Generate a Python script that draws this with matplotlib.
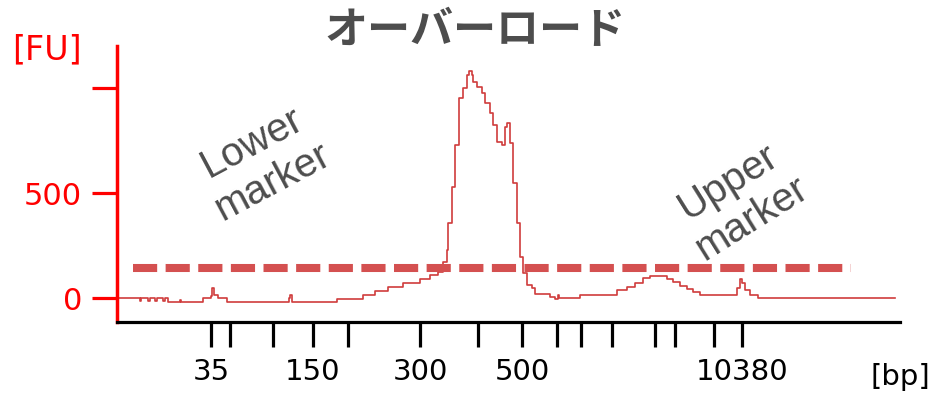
import matplotlib
matplotlib.use("Agg")
import matplotlib.pyplot as plt

# electropherogram trace (position along run, fluorescence units)
trace_pos = [0, 23, 24, 31, 33, 38, 40, 46, 48, 51, 63, 64, 86, 94, 95, 97, 101, 110,
             172, 173, 175, 220, 246, 258, 271, 286, 303, 313, 321, 326, 330, 331, 335,
             338, 342, 346, 350, 352, 355, 356, 360, 365, 368, 373, 376, 380, 385, 388,
             390, 393, 396, 400, 403, 406, 410, 415, 418, 433, 438, 441, 442, 463, 500,
             510, 518, 526, 533, 550, 556, 563, 570, 576, 583, 620, 623, 625, 628, 633,
             641, 778]
trace_fu = [0, -15, 0, -15, 0, -12, 0, -15, 0, -19, -10, -19, 0, 10, 50, 14, 0, -19,
            0, 14, -19, -5, 14, 33, 52, 71, 92, 110, 124, 171, 229, 357, 529,
            729, 952, 1000, 1062, 1080, 1060, 1029, 1005, 976, 929, 881, 824, 743, 729, 814,
            833, 738, 548, 357, 195, 120, 62, 48, 19, 5, -5, 14, 0, 14, 38,
            52, 71, 95, 105, 90, 76, 57, 43, 29, 14, 48, 90, 71, 38, 14,
            0, 0]

# ladder positions on the x axis
tick_pos = [94, 113, 156, 196, 231, 303, 361, 405, 440, 464, 495, 538, 558, 597, 625]
tick_labels = ["35", "", "", "150", "", "300", "", "500", "", "", "", "", "", "", "10380"]

y_ticks = [0, 500, 1000]
y_tick_labels = ["0", "500", ""]

overload_level = 143
overload_span = [16, 734]

red = "#ff0000"
trace_red = "#d03c3c"
grey = "#4d4d4d"

fig = plt.figure(figsize=(9.33, 3.94), dpi=100)
ax = fig.add_axes([117 / 933, 1 - 322 / 394, 783 / 933, 276 / 394])

ax.plot(trace_pos, trace_fu, drawstyle="steps-post", color=trace_red, lw=1.2)
ax.plot(overload_span, [overload_level] * 2, color="#d45050", lw=5.8,
        dashes=(3, 1.05), solid_capstyle="butt", dash_capstyle="butt")

ax.set_xlim(0, 783)
ax.set_ylim(-114, 1200)

for s in ["top", "right"]:
    ax.spines[s].set_visible(False)
ax.spines["left"].set_color(red)
ax.spines["left"].set_linewidth(2.5)
ax.spines["bottom"].set_color("black")
ax.spines["bottom"].set_linewidth(2.3)

ax.set_yticks(y_ticks)
ax.set_yticklabels(y_tick_labels)
ax.tick_params(axis="y", colors=red, length=18, width=2.3, pad=7, labelsize=22)
ax.set_xticks(tick_pos)
ax.set_xticklabels(tick_labels)
ax.tick_params(axis="x", colors="black", length=18, width=2.3, pad=8, labelsize=21)

ax.text(145, 647, "Lower\nmarker", rotation=28, ha="center", va="center",
        fontsize=29, color=grey, family="Liberation Sans", rotation_mode="anchor")
ax.text(623, 467, "Upper\nmarker", rotation=32, ha="center", va="center",
        fontsize=29, color=grey, family="Liberation Sans", rotation_mode="anchor")

fig.text(475 / 933, 1 - 30 / 394, "オーバーロード", ha="center", va="center",
         fontsize=31, fontweight="bold", color=grey,
         family=["Noto Sans CJK JP", "DejaVu Sans"])
fig.text(47 / 933, 1 - 50 / 394, "[FU]", ha="center", va="center", fontsize=24, color=red)
fig.text(900 / 933, 1 - 377 / 394, "[bp]", ha="center", va="center", fontsize=21, color="black")

fig.savefig("out.png", dpi=100)
